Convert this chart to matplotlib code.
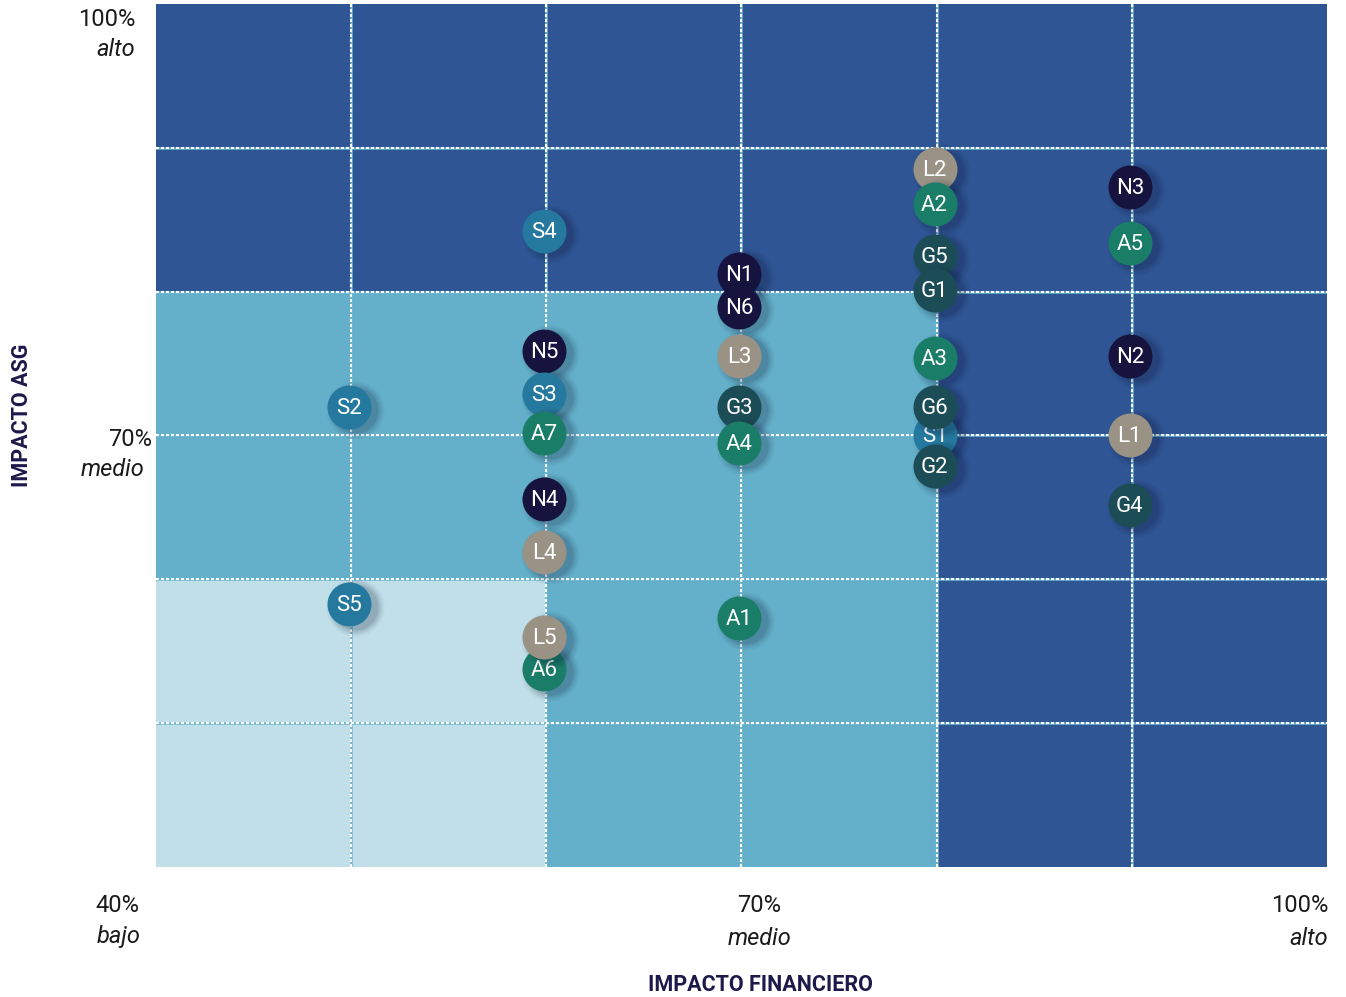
import matplotlib
matplotlib.use("Agg")
import matplotlib.pyplot as plt
from matplotlib.transforms import offset_copy
from matplotlib.patches import Rectangle

plt.rcParams['font.family'] = ['Roboto', 'DejaVu Sans']

# ---- data ----
labels = ["S4", "L2", "A2", "G5", "G1", "N3", "A5", "N1", "N6",
          "N5", "S3", "A7", "L3", "G3", "A4", "A3", "S1", "G6", "G2",
          "N2", "L1", "G4", "S2", "N4", "L4", "S5", "A6", "L5", "A1"]
fin = [60, 80, 80, 80, 80, 90, 90, 70, 70,
       60, 60, 60, 70, 70, 70, 80, 80, 80, 80,
       90, 90, 90, 50, 60, 60, 50, 60, 60, 70]
asg = [84.2, 88.5, 86.1, 82.5, 80.1, 87.3, 83.4, 81.2, 78.9,
       75.9, 72.9, 70.2, 75.5, 72.0, 69.5, 75.4, 70.0, 72.0, 67.9,
       75.5, 70.0, 65.2, 72.0, 65.6, 61.9, 58.3, 53.8, 56.0, 57.3]

group_colors = {"N": "#16143f", "A": "#1a7d68", "G": "#1c4d56",
                "L": "#9b9286", "S": "#25799f"}

# zones: (x0, x1, y0, y1, color)
zone_dark = (40, 100, 40, 100, "#2f5594")
zone_mid = (40, 80, 40, 80, "#64afc9")
zone_light = (40, 60, 40, 60, "#c1dfe8")
grid_vals = [50, 60, 70, 80, 90]

W, H = 1346, 997
fig = plt.figure(figsize=(W / 100, H / 100), dpi=100)
ax = fig.add_axes([156 / W, 1 - 867 / H, (1327 - 156) / W, (867 - 4) / H])
ax.set_xlim(40, 100)
ax.set_ylim(40, 100)
ax.axis('off')

for x0, x1, y0, y1, c in (zone_dark, zone_mid, zone_light):
    ax.add_patch(Rectangle((x0, y0), x1 - x0, y1 - y0, facecolor=c,
                           edgecolor='none', zorder=0))

for g in grid_vals:
    ax.axvline(g, color="#6fb6cf", lw=1.8, zorder=1)
    ax.axvline(g, color="white", lw=1.5, ls=(0, (1.4, 1.0)), zorder=1.1)
    ax.axhline(g, color="#6fb6cf", lw=1.8, zorder=1)
    ax.axhline(g, color="white", lw=1.5, ls=(0, (1.4, 1.0)), zorder=1.1)

shadow_tr = offset_copy(ax.transData, fig=fig, x=4, y=-3, units='dots')
pt_tr = offset_copy(ax.transData, fig=fig, x=-2, y=0, units='dots')
txt_tr = offset_copy(ax.transData, fig=fig, x=-2, y=-1.5, units='dots')
z = 2
for lab, xv, yv in zip(labels, fin, asg):
    col = group_colors[lab[0]]
    for d, a in ((58, 0.04), (54, 0.06), (50, 0.08), (46, 0.10)):
        ax.scatter([xv], [yv], s=(d * 0.72) ** 2, color="#0b1633", alpha=a,
                   linewidths=0, transform=shadow_tr, zorder=z)
    ax.scatter([xv], [yv], s=(44 * 0.72) ** 2, color=col, linewidths=0,
               transform=pt_tr, zorder=z + 0.5)
    ax.text(xv, yv, lab, color="white", fontsize=16, ha='center',
            va='center', transform=txt_tr, zorder=z + 0.6)
    z += 1


def ftxt(x, y, s, **kw):
    fig.text(x / W, 1 - y / H, s, **kw)


tick_kw = dict(fontsize=17, color="#1a1a1a", fontweight='normal', va='center')
it_kw = dict(fontsize=17, color="#1a1a1a", fontweight='normal', va='center',
             style='italic')

# y-axis labels
ftxt(135, 20, "100%", ha='right', **tick_kw)
ftxt(135, 50, "alto", ha='right', **it_kw)
ftxt(152, 440, "70%", ha='right', **tick_kw)
ftxt(145, 469, "medio", ha='right', **it_kw)
# x-axis labels
ftxt(117, 906, "40%", ha='center', **tick_kw)
ftxt(119, 936, "bajo", ha='center', **it_kw)
ftxt(759, 906, "70%", ha='center', **tick_kw)
ftxt(760, 938, "medio", ha='center', **it_kw)
ftxt(1328, 906, "100%", ha='right', **tick_kw)
ftxt(1328, 938, "alto", ha='right', **it_kw)

ftxt(760, 985, "IMPACTO FINANCIERO", ha='center', va='center', fontsize=15.5,
     fontweight='bold', color="#1c1a4a")
ftxt(22, 415, "IMPACTO ASG", ha='center', va='center', fontsize=15.5,
     fontweight='bold', color="#1c1a4a", rotation=90)

fig.savefig("out.png", dpi=100)
